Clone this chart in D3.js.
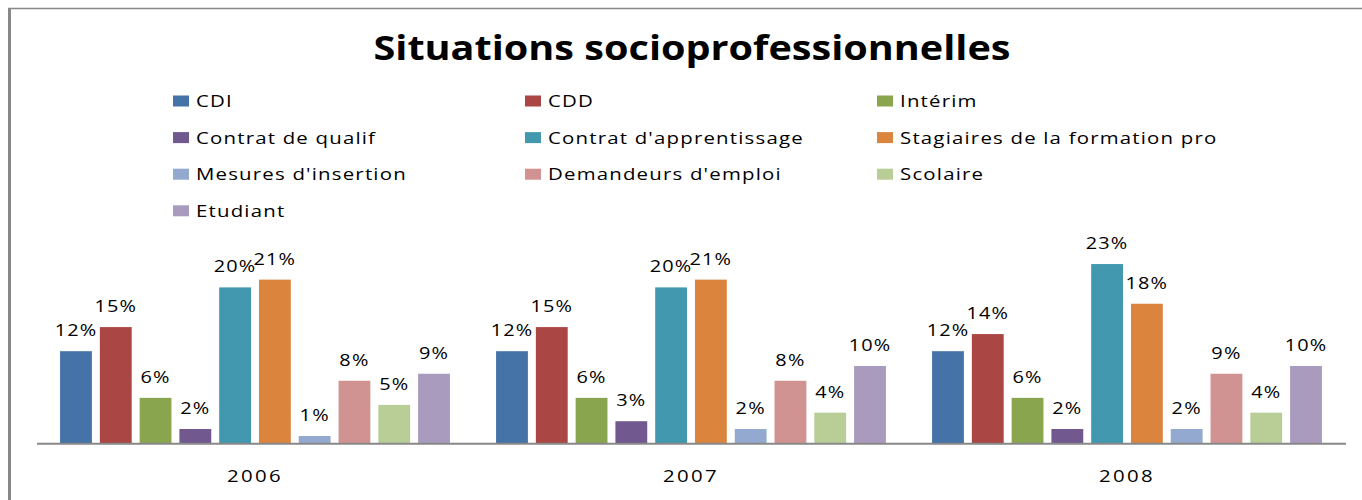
<!DOCTYPE html>
<html>
<head>
<meta charset="utf-8">
<script src="https://cdn.jsdelivr.net/npm/d3@7"></script>
<style>
  html, body { margin: 0; padding: 0; background: #fff; }
  svg { display: block; }
</style>
</head>
<body>
<div id="chart"></div>
<script>
// données
const years = ["2006", "2007", "2008"]
const series = ["CDI", "CDD", "Intérim", "Contrat de qualif", "Contrat d'apprentissage",
  "Stagiaires de la formation pro", "Mesures d'insertion", "Demandeurs d'emploi", "Scolaire", "Etudiant"]
const colors = ["#4572A7", "#AA4643", "#89A54E", "#71588F", "#4198AF",
  "#DB843D", "#93A9CF", "#D19392", "#B9CD96", "#A99BBD"]

const cdi        = [11.8, 11.8, 11.8]
const cdd        = [14.9, 14.9, 14.0]
const interim    = [5.8, 5.8, 5.8]
const qualif     = [1.8, 2.8, 1.8]
const apprenti   = [20.0, 20.0, 23.0]
const stagiaires = [21.0, 21.0, 17.9]
const mesures    = [0.9, 1.8, 1.8]
const demandeurs = [8.0, 8.0, 8.9]
const scolaire   = [4.9, 3.9, 3.9]
const etudiant   = [8.9, 9.9, 9.9]

const values = [cdi, cdd, interim, qualif, apprenti, stagiaires, mesures, demandeurs, scolaire, etudiant]

const width = 1362, height = 500
const font = "'Open Sans', sans-serif"

const svg = d3.select('#chart').append('svg')
  .attr('width', width)
  .attr('height', height)

// cadre
svg.append('line').attr('x1', 9.5).attr('x2', 9.5).attr('y1', 8).attr('y2', height)
  .attr('stroke', '#888').attr('stroke-width', 3)
svg.append('line').attr('x1', 8).attr('x2', width).attr('y1', 8.5).attr('y2', 8.5)
  .attr('stroke', '#888').attr('stroke-width', 1.5)

// titre (texte étiré horizontalement comme l'original)
svg.append('text')
  .attr('transform', 'translate(692,60) scale(1.165,1)')
  .attr('text-anchor', 'middle')
  .style('font-family', font).style('font-weight', 'bold').style('font-size', '34px')
  .text('Situations socioprofessionnelles')

// légende
const legend = svg.append('g').selectAll('g')
  .data(series)
  .enter().append('g')
  .attr('transform', (d, i) => `translate(${173 + (i % 3) * 352},${95.5 + Math.floor(i / 3) * 36.6})`)
legend.append('rect').attr('width', 16).attr('height', 11)
  .attr('fill', (d, i) => colors[i])
legend.append('text')
  .attr('transform', 'translate(23,11.5) scale(1.2,1)')
  .style('font-family', font).style('font-size', '17px').style('letter-spacing', '1px')
  .text(d => d)

// échelles
const x0 = d3.scaleBand().domain(years).range([37, 1345]).padding(0)
const x1 = d3.scaleBand().domain(d3.range(series.length)).range([0, x0.bandwidth()])
  .paddingInner(0.2).paddingOuter(0.58)
const y = d3.scaleLinear().domain([0, 25]).range([443, 443 - 25 * 7.78])

const groups = svg.append('g').selectAll('g')
  .data(years)
  .enter().append('g')
  .attr('transform', d => `translate(${x0(d)},0)`)

const cells = groups.selectAll('g')
  .data((yr, j) => values.map((v, i) => ({ i: i, v: v[j] })))
  .enter().append('g')

cells.append('rect')
  .attr('x', d => x1(d.i))
  .attr('y', d => y(d.v))
  .attr('width', x1.bandwidth())
  .attr('height', d => y(0) - y(d.v))
  .attr('fill', d => colors[d.i])

cells.append('text')
  .attr('transform', d => `translate(${x1(d.i) + x1.bandwidth() / 2},${y(d.v) - 15}) scale(1.17,1)`)
  .attr('text-anchor', 'middle')
  .style('font-family', font).style('font-size', '17px').style('letter-spacing', '1px')
  .text(d => Math.round(d.v) + '%')

// axe
const axis = svg.append('g')
  .attr('transform', 'translate(0,443)')
  .call(d3.axisBottom(x0).tickSize(0).tickPadding(27))
axis.select('.domain').attr('stroke', '#888').attr('stroke-width', 2)
  .attr('d', 'M37,0.8H1346')
axis.selectAll('.tick text')
  .attr('transform', 'scale(1.2,1)')
  .style('font-family', font).style('font-size', '17px').style('letter-spacing', '2px')
  .attr('fill', '#000')
</script>
</body>
</html>
